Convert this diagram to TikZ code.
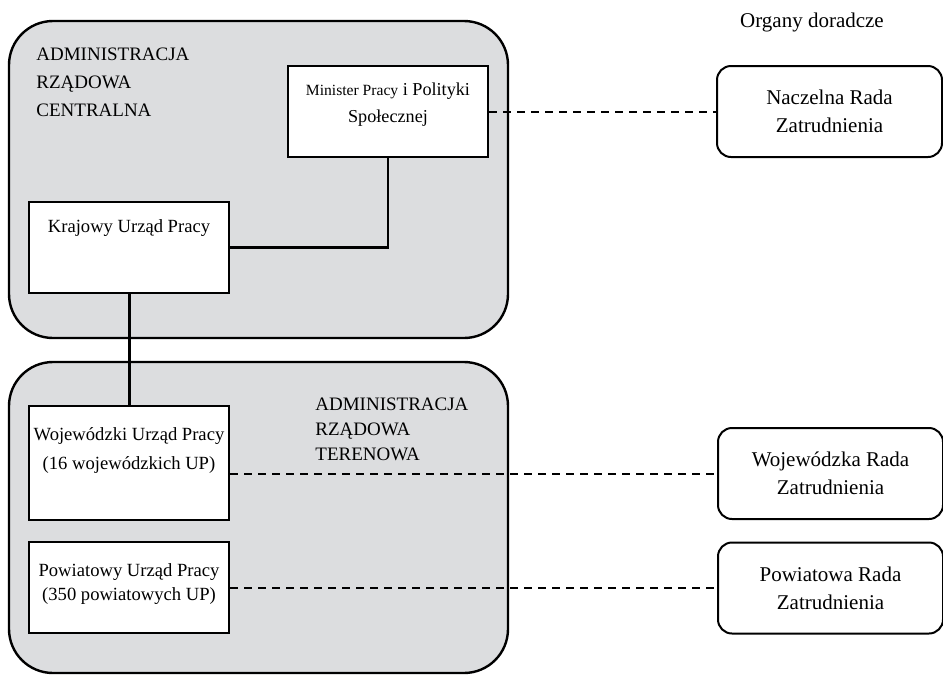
\documentclass[tikz,border=0pt]{standalone}
\usepackage{fontspec}
\setmainfont{Liberation Serif}
\usetikzlibrary{positioning}
\definecolor{panelgray}{RGB}{220,221,223}
\tikzset{
    region/.style={draw, line width=1.2pt, fill=panelgray, rounded corners=22pt, minimum width=249.5pt},
    office/.style={draw, line width=1pt, fill=white, minimum width=100pt, minimum height=45.5pt},
    council/.style={draw, line width=1pt, rounded corners=7pt, minimum width=112.5pt, minimum height=45.5pt, align=center, font=\fontsize{10.5}{14}\selectfont},
    heading/.style={align=left, anchor=north west, inner sep=0pt},
    boxtext/.style={align=center, inner sep=0pt, font=\fontsize{9.3}{14.5}\selectfont},
    link/.style={line width=1.1pt},
    advisory/.style={line width=1pt, dash pattern=on 4pt off 3pt}
}

\begin{document}
\begin{tikzpicture}[x=0.5pt, y=-0.5pt]
    \useasboundingbox (0,0) rectangle (943,676);

    % the two levels of administration
    \node[region, minimum height=158.5pt] (central) at (258.5,179.5) {};
    \node[region, minimum height=155.5pt] (field) at (258.5,517.5) {};
    \node[heading, font=\fontsize{9.5}{14}\selectfont] (centraltitle) at (36,48) {ADMINISTRACJA\\RZĄDOWA\\CENTRALNA};
    \node[heading, font=\fontsize{9.5}{12.5}\selectfont] (fieldtitle) at (315,398) {ADMINISTRACJA\\RZĄDOWA\\TERENOWA};

    % offices
    \node[office] (minister) at (388,111.5) {};
    \node[boxtext, font=\fontsize{9.1}{13.5}\selectfont] (ministertext) at (388,105) {{\fontsize{7.8}{13.5}\selectfont Minister Pracy} i Polityki\\Społecznej};
    \node[office] (kup) at (129,247.5) {};
    \node[boxtext] (kuptext) at (129,228) {Krajowy Urząd Pracy};
    \node[office, minimum height=57pt] (wup) at (129,463) {};
    \node[boxtext] (wuptext) at (129,451) {Wojewódzki Urząd Pracy\\(16 wojewódzkich UP)};
    \node[office] (pup) at (129,587.5) {};
    \node[boxtext, font=\fontsize{9.3}{12}\selectfont] (puptext) at (129,584) {Powiatowy Urząd Pracy\\(350 powiatowych UP)};

    % advisory bodies
    \node[font=\fontsize{10.5}{12}\selectfont] (advisors) at (812,22) {Organy doradcze};
    \node[council] (nrz) at (829.5,111.5) {Naczelna Rada\\Zatrudnienia};
    \node[council] (wrz) at (830.5,473.5) {Wojewódzka Rada\\Zatrudnienia};
    \node[council] (prz) at (830.5,588) {Powiatowa Rada\\Zatrudnienia};

    \draw[link] (minister.south) |- (kup.east);
    \draw[link, line width=1.5pt] (kup.south) -- (wup.north);
    \draw[advisory] (minister.east) -- (nrz.west);
    \draw[advisory] (wup.east |- wrz.west) -- (wrz.west);
    \draw[advisory] (pup.east |- prz.west) -- (prz.west);
\end{tikzpicture}
\end{document}
